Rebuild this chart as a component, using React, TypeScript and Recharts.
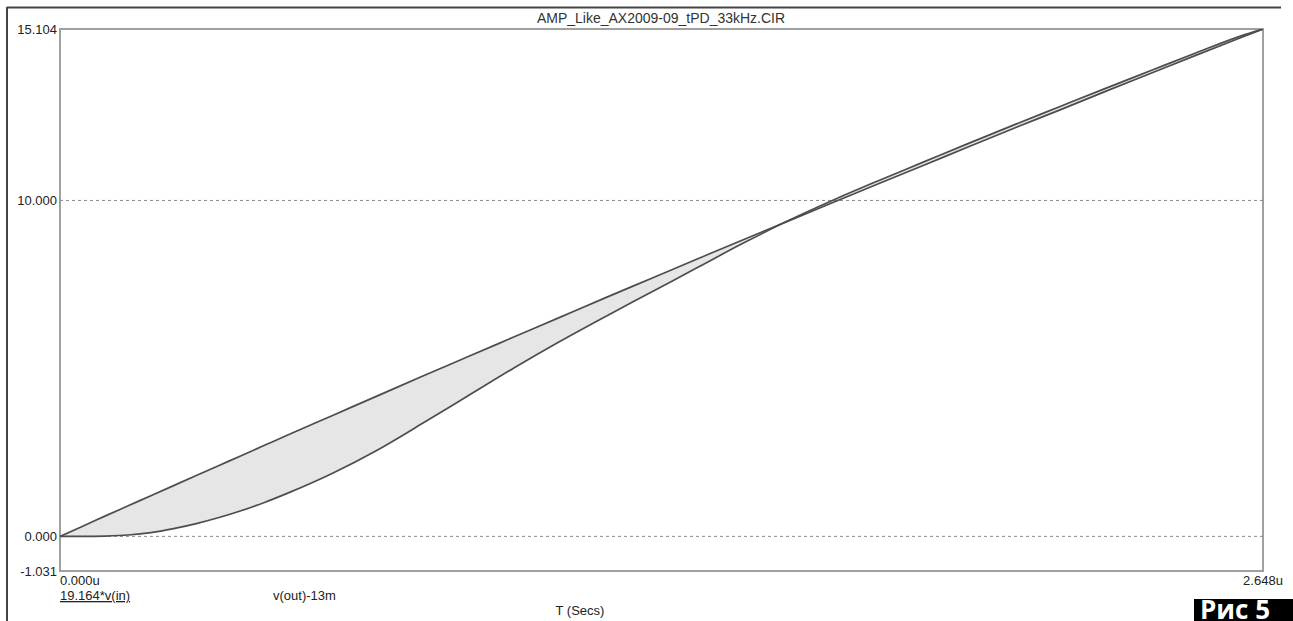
import React from 'react';
import { ComposedChart, Area, Line, XAxis, YAxis, ReferenceLine, ReferenceArea } from 'recharts';

const times = [0, 0.05, 0.1, 0.15, 0.2, 0.25, 0.3, 0.35, 0.4, 0.45, 0.5, 0.6, 0.7, 0.8, 0.9, 1.0, 1.1, 1.2, 1.3, 1.4, 1.5, 1.6, 1.7, 1.8, 1.9, 2.0, 2.1, 2.2, 2.3, 2.4, 2.5, 2.6, 2.648];
const vIn = [0, 0.3, 0.61, 0.91, 1.21, 1.51, 1.81, 2.11, 2.41, 2.71, 3.01, 3.6, 4.19, 4.78, 5.36, 5.94, 6.52, 7.1, 7.67, 8.24, 8.81, 9.37, 9.93, 10.49, 11.04, 11.6, 12.15, 12.69, 13.24, 13.78, 14.32, 14.85, 15.104];
const vOut = [0, 0, 0.01, 0.04, 0.11, 0.23, 0.38, 0.56, 0.77, 1.01, 1.28, 1.88, 2.58, 3.38, 4.2, 5.02, 5.8, 6.54, 7.26, 7.98, 8.7, 9.38, 10.0, 10.58, 11.14, 11.7, 12.25, 12.79, 13.33, 13.86, 14.39, 14.9, 15.104];

const yTicks = [-1.031, 0, 10, 15.104];
const yDomain = [-1.031, 15.104];
const xTicks = [0, 2.648];
const xTickLabels = ['0.000u', '2.648u'];
const gridValues = [0, 10];
const title = 'AMP_Like_AX2009-09_tPD_33kHz.CIR';
const seriesNames = ['19.164*v(in)', 'v(out)-13m'];
const xAxisTitle = 'T (Secs)';
const figLabel = 'Рис 5';

const data = times.map((t, i) => ({
  t,
  vin: vIn[i],
  vout: vOut[i],
  band: [Math.min(vIn[i], vOut[i]), Math.max(vIn[i], vOut[i])],
}));

const FONT = '"Liberation Sans", Arial, sans-serif';

const XTick = (props: any) => {
  const { x, y, payload } = props;
  const idx = xTicks.indexOf(payload.value);
  const anchor = idx === 0 ? 'start' : 'middle';
  return (
    <text x={x} y={y + 14} textAnchor={anchor} fontSize={13} fill="#222" fontFamily={FONT}>
      {xTickLabels[idx]}
    </text>
  );
};

export default function App() {
  return (
    <div style={{ position: 'absolute', left: 0, top: 0, width: 1293, height: 621, background: '#fff', overflow: 'hidden' }}>
      <div style={{ position: 'absolute', left: 0, top: 0 }}>
        <ComposedChart
          width={1283}
          height={621}
          data={data}
          margin={{ top: 29, right: 20, bottom: 0, left: 0 }}
        >
          <XAxis
            type="number"
            dataKey="t"
            domain={[0, 2.648]}
            ticks={xTicks}
            tick={<XTick />}
            tickLine={false}
            axisLine={false}
            tickSize={0}
            tickMargin={0}
            height={50}
            allowDataOverflow
            interval={0}
          />
          <YAxis
            type="number"
            domain={yDomain}
            ticks={yTicks}
            tickFormatter={(v: number) => v.toFixed(3)}
            tick={{ fontSize: 13, fill: '#222', fontFamily: FONT }}
            tickLine={false}
            axisLine={false}
            tickSize={0}
            tickMargin={3}
            width={60}
            allowDataOverflow
            interval={0}
          />
          {gridValues.map((g) => (
            <ReferenceLine key={g} y={g} stroke="#8a8a8a" strokeDasharray="3 3" strokeWidth={1} />
          ))}
          <Area
            type="monotone"
            dataKey="band"
            fill="#e6e6e6"
            fillOpacity={1}
            stroke="none"
            isAnimationActive={false}
          />
          <Line type="monotone" dataKey="vin" stroke="#4d4d4d" strokeWidth={1.7} dot={false} isAnimationActive={false} />
          <Line type="monotone" dataKey="vout" stroke="#4d4d4d" strokeWidth={1.7} dot={false} isAnimationActive={false} />
          <ReferenceArea
            x1={0}
            x2={2.648}
            y1={yDomain[0]}
            y2={yDomain[1]}
            fill="none"
            fillOpacity={0}
            stroke="#a0a0a0"
            strokeWidth={2}
          />
        </ComposedChart>
      </div>
      <svg width={1293} height={621} style={{ position: 'absolute', left: 0, top: 0, pointerEvents: 'none' }}>
        <line x1={7} y1={7.5} x2={1281} y2={7.5} stroke="#444" strokeWidth={2} />
        <line x1={7} y1={7} x2={7} y2={621} stroke="#444" strokeWidth={2} />
        <text x={661} y={23} textAnchor="middle" fontSize={14} fill="#333" fontFamily={FONT}>{title}</text>
        <text x={60} y={600} fontSize={13} fill="#222" fontFamily={FONT} style={{ textDecoration: 'underline' }}>{seriesNames[0]}</text>
        <text x={273} y={600} fontSize={13} fill="#222" fontFamily={FONT}>{seriesNames[1]}</text>
        <text x={580} y={615} textAnchor="middle" fontSize={13} fill="#222" fontFamily={FONT}>{xAxisTitle}</text>
        <rect x={1194} y={599} width={99} height={22} fill="#000" />
        <text x={1200} y={619} fontSize={26} fontWeight={700} fill="#fff" fontFamily='"Open Sans", sans-serif'>{figLabel}</text>
      </svg>
    </div>
  );
}
